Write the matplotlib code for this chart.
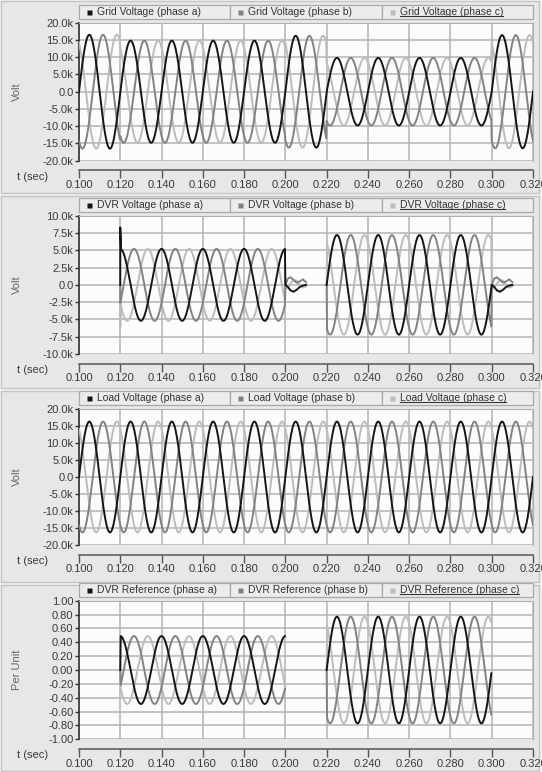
import numpy as np
import matplotlib
matplotlib.use('Agg')
import matplotlib.pyplot as plt
from matplotlib.patches import Rectangle
from matplotlib.lines import Line2D

plt.rcParams['font.family'] = ['Liberation Sans', 'DejaVu Sans']

W, H = 542, 772
F = 50.0
T_START, T_END = 0.100, 0.320
DT = 0.0002

# ---- data ----
cycle_edges = [0.10, 0.12, 0.14, 0.16, 0.18, 0.20, 0.22, 0.24, 0.26, 0.28, 0.30, 0.32]
grid_peak = [16500, 14800, 14800, 14800, 14800, 16200, 9800, 9800, 9800, 9800, 16400]
load_peak = [16300, 16300, 16300, 16300, 16300, 16300, 16300, 16300, 16300, 16300, 16300]
dvr_peak = [np.nan, 5200, 5200, 5200, 5200, np.nan, 7200, 7200, 7200, 7200, np.nan]
ref_peak = [np.nan, 0.49, 0.49, 0.49, 0.49, np.nan, 0.77, 0.77, 0.77, 0.77, np.nan]
inj_shift = [0, 90, 90, 90, 90, 0, 0, 0, 0, 0, 0]   # deg, phase of injected signal
no_shift = [0] * 11
phase_deg = [0, -120, 120]   # a, b, c

# switching spikes / transients of DVR voltage (t, a, b, c)
spike1_t = [0.1200, 0.1200, 0.1203]
spike1_a = [0, 8300, 5600]
spike1_b = [0, -2600, -2400]
spike1_c = [0, -6200, -2800]
spike2_t = [0.2200]
spike2_v = [0]
sq_t = [0.2000, 0.2012, 0.2025, 0.2040, 0.2055, 0.2070, 0.2085, 0.2100]
sq_a = [0, -300, -800, -1000, -700, -300, -100, 0]
sq_b = [0, 900, 1100, 700, 300, 500, 800, 400]
sq_c = [0, -500, 200, 700, 600, 0, -400, -200]
sq2_shift = 0.100

ref_start_t = [0.1200, 0.2200]
ref_start_v = [0, 0]

y_ticks_grid = [-20000, -15000, -10000, -5000, 0, 5000, 10000, 15000, 20000]
y_ticks_dvr = [-10000, -7500, -5000, -2500, 0, 2500, 5000, 7500, 10000]
y_ticks_pu = [-1.0, -0.8, -0.6, -0.4, -0.2, 0.0, 0.2, 0.4, 0.6, 0.8, 1.0]
x_ticks = [0.100, 0.120, 0.140, 0.160, 0.180, 0.200, 0.220, 0.240, 0.260, 0.280, 0.300, 0.320]

titles = [
    ["Grid Voltage (phase a)", "Grid Voltage (phase b)", "Grid Voltage (phase c)"],
    ["DVR Voltage (phase a)", "DVR Voltage (phase b)", "DVR Voltage (phase c)"],
    ["Load Voltage (phase a)", "Load Voltage (phase b)", "Load Voltage (phase c)"],
    ["DVR Reference (phase a)", "DVR Reference (phase b)", "DVR Reference (phase c)"],
]
colors = ['#151515', '#828282', '#bcbcbc']


def wave(peaks, shifts, ph, inserts=()):
    n = int(round((T_END - T_START) / DT)) + 1
    t = T_START + np.arange(n) * DT
    idx = np.clip(np.searchsorted(cycle_edges, t + 1e-9, side='right') - 1, 0, len(peaks) - 1)
    amp = np.array(peaks, dtype=float)[idx]
    sh = np.deg2rad(np.array(shifts, dtype=float)[idx])
    v = amp * np.sin(2 * np.pi * F * (t - T_START) + sh + np.deg2rad(ph))
    for ti, vi in inserts:
        ti = np.array(ti, dtype=float)
        keep = (t < ti.min() - 1e-9) | (t > ti.max() + 1e-9)
        t, v = t[keep], v[keep]
        t = np.concatenate([t, ti])
        v = np.concatenate([v, np.array(vi, dtype=float)])
        o = np.argsort(t, kind='stable')
        t, v = t[o], v[o]
    return t, v


def fmt_k(v):
    return "0.0" if v == 0 else "%.1fk" % (v / 1000.0)


def fmt_pu(v):
    return "%.2f" % v


sq_by_phase = [sq_a, sq_b, sq_c]
spike_by_phase = [spike1_a, spike1_b, spike1_c]
series = []
series.append([wave(grid_peak, no_shift, p) for p in phase_deg])
dvr = []
for k, p in enumerate(phase_deg):
    ins = [(spike1_t, spike_by_phase[k]),
           (spike2_t, spike2_v),
           (sq_t, sq_by_phase[k]),
           ([x + sq2_shift for x in sq_t], sq_by_phase[k])]
    dvr.append(wave(dvr_peak, inj_shift, p, ins))
series.append(dvr)
series.append([wave(load_peak, no_shift, p) for p in phase_deg])
series.append([wave(ref_peak, inj_shift, p, [(ref_start_t[:1], ref_start_v[:1]),
                                              (ref_start_t[1:], ref_start_v[1:])])
               for p in phase_deg])

yticks = [y_ticks_grid, y_ticks_dvr, y_ticks_grid, y_ticks_pu]
ylabels = ["Volt", "Volt", "Volt", "Per Unit"]
fmts = [fmt_k, fmt_k, fmt_k, fmt_pu]

# layout in pixels (top, bottom) of plot area and panel frame
plot_px = [(22.7, 160.7), (215.7, 354.0), (409.0, 545.0), (600.7, 739.3)]
frame_px = [(1, 193), (196, 388), (391, 582), (585, 771)]
X0, X1 = 79, 533


def px_box(x0, y0, x1, y1):
    return [x0 / W, 1 - y1 / H, (x1 - x0) / W, (y1 - y0) / H]


fig = plt.figure(figsize=(W / 100, H / 100), dpi=100, facecolor='#f3f3f3')

for (ft, fb) in frame_px:
    fig.patches.append(Rectangle((1 / W, 1 - fb / H), (W - 4) / W, (fb - ft) / H,
                                 transform=fig.transFigure, fc='#e7e7e7',
                                 ec='#c4c4c4', lw=1.0, zorder=-10))

under_texts = []
for i in range(4):
    top, bot = plot_px[i]
    ax = fig.add_axes(px_box(X0, top, X1, bot))
    ax.set_zorder(2)
    ax.set_facecolor('#fcfcfc')
    for k in [2, 1, 0]:
        t, v = series[i][k]
        ax.plot(t, v, color=colors[k], lw=1.4, zorder=3 + (2 - k))
    ax.set_xlim(T_START, T_END)
    ax.set_ylim(yticks[i][0], yticks[i][-1])
    ax.set_xticks(x_ticks)
    ax.set_xticklabels(["%.3f" % x for x in x_ticks])
    ax.set_yticks(yticks[i])
    ax.set_yticklabels([fmts[i](v) for v in yticks[i]])
    ax.grid(True, color='#b3b3b3', lw=1.1, zorder=1)
    ax.set_axisbelow(True)
    for s in ['top', 'right']:
        ax.spines[s].set_color('#b0b0b0')
    ax.spines['left'].set_color('#333333')
    ax.spines['left'].set_linewidth(1.2)
    ax.spines['bottom'].set_position(('outward', 7))
    ax.spines['bottom'].set_color('#555555')
    ax.spines['bottom'].set_linewidth(1.1)
    ax.tick_params(axis='y', direction='out', length=3, width=1, color='#333333',
                   labelsize=8, labelcolor='#3a3a3a', pad=1)
    ax.tick_params(axis='x', direction='out', length=6, width=1, color='#555555',
                   labelsize=8, labelcolor='#3a3a3a', pad=1)
    ax.set_ylabel(ylabels[i], fontsize=8, color='#666666')
    ax.yaxis.set_label_coords((22 - X0) / (X1 - X0), 0.5)
    ax.annotate("t (sec)", xy=(0, 0), xycoords='axes fraction',
                xytext=(-31, -16), textcoords='offset pixels',
                ha='right', va='center', fontsize=8, color='#3a3a3a')

    # legend strip
    axl = fig.add_axes(px_box(X0, top - 18, X1, top - 4))
    axl.set_zorder(2)
    axl.set_xlim(0, 1)
    axl.set_ylim(0, 1)
    axl.axis('off')
    for k in range(3):
        axl.add_patch(Rectangle((k / 3, 0), 1 / 3, 1, fc='#ececec', ec='#a8a8a8',
                                lw=0.9, clip_on=False))
        axl.plot(k / 3 + 0.022, 0.5, 's', ms=3.6, color=colors[k], mec='none')
        txt = axl.text(k / 3 + 0.04, 0.47, titles[i][k], fontsize=7.5,
                       color='#333333', ha='left', va='center')
        if k == 2:
            under_texts.append(txt)

fig.canvas.draw()
r = fig.canvas.get_renderer()
for txt in under_texts:
    bb = txt.get_window_extent(r)
    fig.add_artist(Line2D([bb.x0 / W, bb.x1 / W], [(bb.y0 + 1) / H, (bb.y0 + 1) / H],
                          transform=fig.transFigure, color='#333333', lw=0.8,
                          zorder=5))

fig.savefig('out.png', dpi=100, facecolor=fig.get_facecolor())
